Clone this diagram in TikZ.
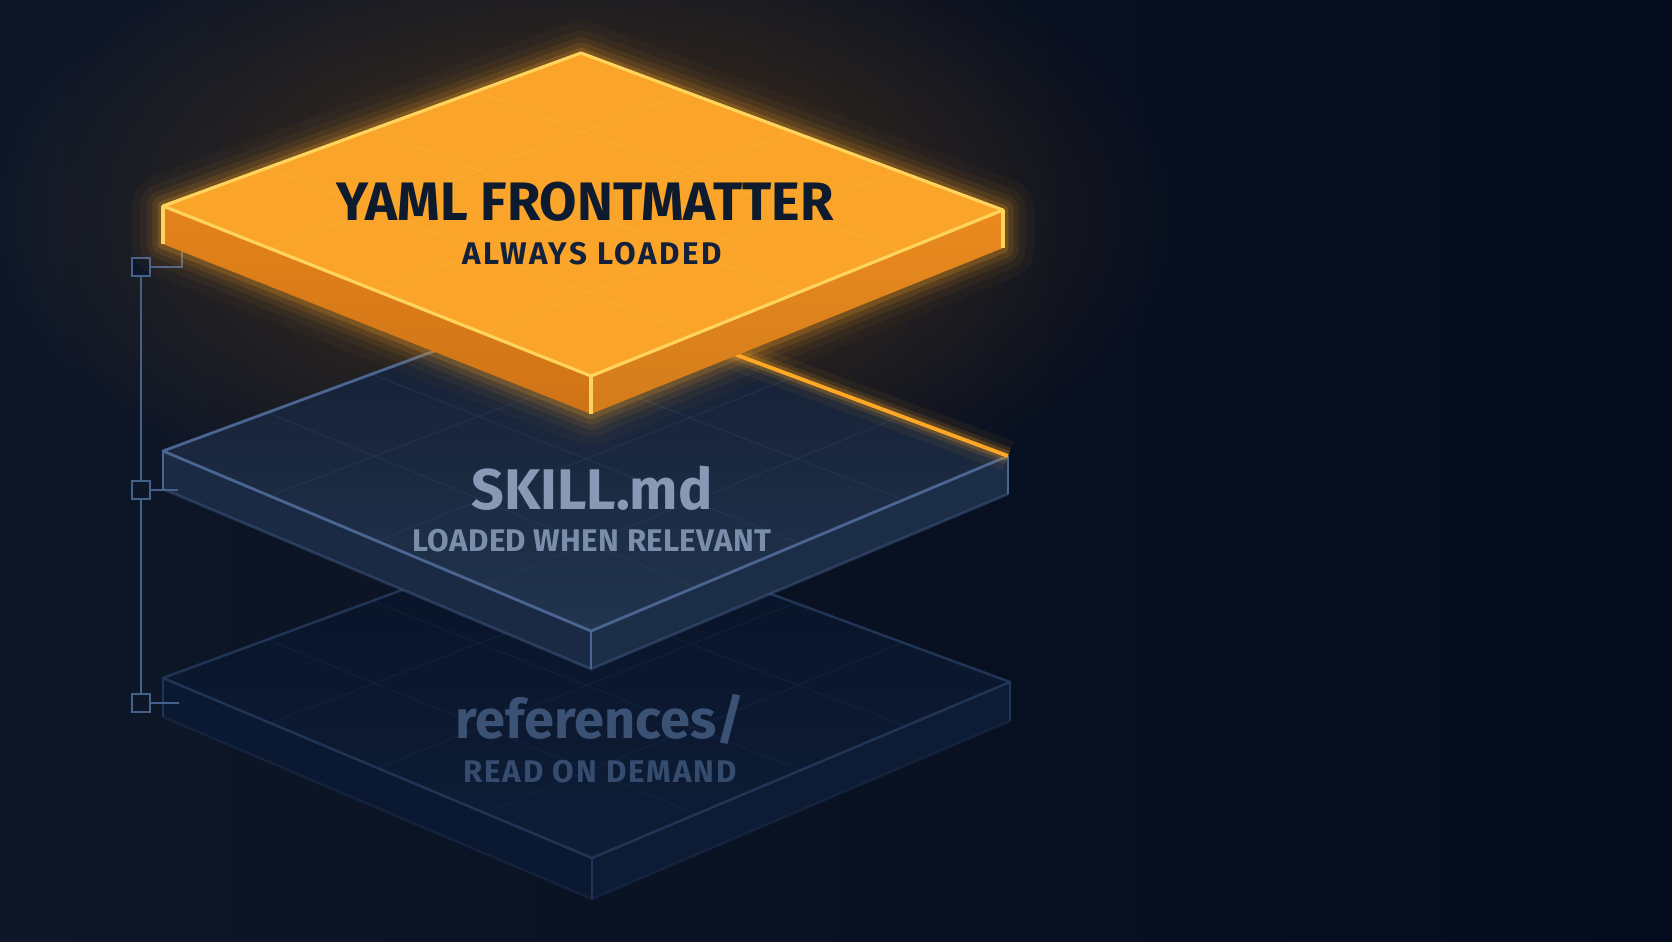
\documentclass[tikz,border=0pt]{standalone}
\usepackage{fontspec}
\setmainfont{Fira Sans}
\usepackage{tikz}
\usetikzlibrary{calc,fadings}
\definecolor{bgleft}{HTML}{0E1728}
\definecolor{bgright}{HTML}{030B1D}
\definecolor{warmglow}{HTML}{6A4416}
\definecolor{orangetop}{HTML}{FAA42A}
\definecolor{orangeleft}{HTML}{E07D18}
\definecolor{orangeright}{HTML}{EA8A1E}
\definecolor{orangeedge}{HTML}{FFD45C}
\definecolor{orangeline}{HTML}{FFA826}
\definecolor{slatetop}{HTML}{22344F}
\definecolor{slateshade}{HTML}{131D30}
\definecolor{slateleft}{HTML}{1A2A45}
\definecolor{slateright}{HTML}{1C2D48}
\definecolor{slateedge}{HTML}{4A6590}
\definecolor{slategrid}{HTML}{2C3E5C}
\definecolor{deeptop}{HTML}{0E1D37}
\definecolor{deepshade}{HTML}{081226}
\definecolor{deepleft}{HTML}{0B1831}
\definecolor{deepright}{HTML}{0D1B35}
\definecolor{deepedge}{HTML}{203556}
\definecolor{portc}{HTML}{45618A}
\definecolor{inktitle}{HTML}{0E1A2D}
\definecolor{inksub}{HTML}{14213A}
\definecolor{skillink}{HTML}{8799B4}
\definecolor{skillsub}{HTML}{7A8DAA}
\definecolor{refink}{HTML}{3B5275}
\definecolor{refsub}{HTML}{364C6E}
\tikzfading[name=softglow, inner color=transparent!35, outer color=transparent!100]

\begin{document}
\begin{tikzpicture}[x=0.01cm, y=-0.01cm]
	\tikzset{edgeA/.style={draw=orangeedge, line width=0.9pt, line join=round}}
	\tikzset{edgeB/.style={draw=slateedge, line width=0.8pt, line join=round}}
	\tikzset{edgeC/.style={draw=deepedge, line width=0.7pt, line join=round}}
	\tikzset{gridA/.style={draw=orangeedge, opacity=0.14, line width=0.4pt}}
	\tikzset{gridB/.style={draw=slategrid, opacity=0.4, line width=0.4pt}}
	\tikzset{gridC/.style={draw=deepedge, opacity=0.25, line width=0.4pt}}
	\tikzset{port/.style={draw=portc, line width=0.8pt, minimum size=0.18cm, inner sep=0pt, fill=bgleft}}
	\tikzset{wire/.style={draw=portc, line width=0.8pt}}
	\tikzset{title/.style={anchor=base, inner sep=0pt, font=\fontsize{15.4}{18}\selectfont\bfseries}}
	\tikzset{caption/.style={anchor=base, inner sep=0pt, font=\fontsize{8.9}{11}\selectfont\bfseries}}
	% background
	\useasboundingbox (0,0) rectangle (1672,941);
	\shade[left color=bgleft, right color=bgright] (0,0) rectangle (1672,941);
	\fill[warmglow, path fading=softglow] (585,215) ellipse (600 and 330);
	% corners of the three slabs
	\coordinate (aL) at (163,206); \coordinate (aT) at (581,53);
	\coordinate (aR) at (1003,210); \coordinate (aF) at (591,376);
	\coordinate (aLb) at (163,244); \coordinate (aRb) at (1003,248); \coordinate (aFb) at (591,414);
	\coordinate (bL) at (163,451); \coordinate (bT) at (581,297);
	\coordinate (bR) at (1008,456); \coordinate (bF) at (591,631);
	\coordinate (bLb) at (163,489); \coordinate (bRb) at (1008,494); \coordinate (bFb) at (591,669);
	\coordinate (cL) at (163,678); \coordinate (cT) at (581,524);
	\coordinate (cR) at (1010,682); \coordinate (cF) at (592,858);
	\coordinate (cLb) at (163,717); \coordinate (cRb) at (1010,721); \coordinate (cFb) at (592,899);
	% references/ slab
	\fill[deepleft] (cL) -- (cF) -- (cFb) -- (cLb) -- cycle;
	\fill[deepright] (cF) -- (cR) -- (cRb) -- (cFb) -- cycle;
	\shade[top color=deepshade, bottom color=deeptop] (cL) -- (cT) -- (cR) -- (cF) -- cycle;
	\foreach \t in {0.25,0.5,0.75} {
		\draw[gridC] ($(cL)!\t!(cT)$) -- ($(cF)!\t!(cR)$);
		\draw[gridC] ($(cL)!\t!(cF)$) -- ($(cT)!\t!(cR)$);
	}
	\draw[edgeC] (cL) -- (cT) -- (cR) -- (cF) -- cycle;
	\draw[edgeC] (cL) -- (cLb) (cF) -- (cFb) (cR) -- (cRb);
	\draw[edgeC, opacity=0.4] (cLb) -- (cFb) -- (cRb);
	% SKILL.md slab
	\fill[slateleft] (bL) -- (bF) -- (bFb) -- (bLb) -- cycle;
	\fill[slateright] (bF) -- (bR) -- (bRb) -- (bFb) -- cycle;
	\shade[top color=slateshade, bottom color=slatetop] (bL) -- (bT) -- (bR) -- (bF) -- cycle;
	\foreach \t in {0.25,0.5,0.75} {
		\draw[gridB] ($(bL)!\t!(bT)$) -- ($(bF)!\t!(bR)$);
		\draw[gridB] ($(bL)!\t!(bF)$) -- ($(bT)!\t!(bR)$);
	}
	\draw[edgeB] (bR) -- (bF) -- (bL) -- (bT);
	\draw[edgeB] (bL) -- (bLb) (bF) -- (bFb) (bR) -- (bRb);
	\draw[edgeB, opacity=0.4] (bLb) -- (bFb) -- (bRb);
	\foreach \w/\o in {9/0.06, 5/0.12, 3/0.2} {
		\draw[orangeline, line width=\w pt, opacity=\o] (bT) -- (bR);
	}
	\draw[orangeline, line width=1.1pt] (bT) -- (bR);
	% level connector
	\node[port] (p1) at (141,267) {};
	\node[port] (p2) at (141,490) {};
	\node[port] (p3) at (141,703) {};
	\coordinate (s1) at (182,267);
	\coordinate (s1top) at ($(aLb)!0.045!(aFb)$);
	\coordinate (s2) at (178,490);
	\coordinate (s3) at (179,703);
	\draw[wire] (p1) -- (p2);
	\draw[wire] (p2) -- (p3);
	\draw[wire] (p1) -- (s1) -- (s1 |- s1top);
	\draw[wire] (p2) -- (s2);
	\draw[wire] (p3) -- (s3);
	% YAML frontmatter slab
	\foreach \w/\o in {18/0.035, 13/0.05, 9/0.08, 6/0.11, 3/0.18} {
		\draw[orangeline, line width=\w pt, opacity=\o, line join=round]
			(aL) -- (aT) -- (aR) -- (aRb) -- (aFb) -- (aLb) -- cycle;
	}
	\shade[top color=orangeleft!85!orangetop, bottom color=orangeleft!92!black] (aL) -- (aF) -- (aFb) -- (aLb) -- cycle;
	\shade[top color=orangeright, bottom color=orangeright!90!black] (aF) -- (aR) -- (aRb) -- (aFb) -- cycle;
	\fill[orangetop] (aL) -- (aT) -- (aR) -- (aF) -- cycle;
	\foreach \t in {0.25,0.5,0.75} {
		\draw[gridA] ($(aL)!\t!(aT)$) -- ($(aF)!\t!(aR)$);
		\draw[gridA] ($(aL)!\t!(aF)$) -- ($(aT)!\t!(aR)$);
	}
	\draw[edgeA] (aL) -- (aT) -- (aR) -- (aF) -- cycle;
	\draw[edgeA] (aL) -- (aLb) (aF) -- (aFb) (aR) -- (aRb);
	% labels
	\node[title, text=inktitle] (yaml) at (585,220) {YAML FRONTMATTER};
	\node[caption, text=inksub] (always) at (592,264) {\addfontfeature{LetterSpace=8}ALWAYS LOADED};
	\node[title, text=skillink, font=\fontsize{16.3}{19}\selectfont\bfseries] (skill) at (592,509) {SKILL.md};
	\node[caption, text=skillsub] (relevant) at (592,551) {\addfontfeature{LetterSpace=1}LOADED WHEN RELEVANT};
	\node[title, text=refink, font=\fontsize{15.4}{19}\selectfont\bfseries] (refs) at (600,738) {references/};
	\node[caption, text=refsub] (demand) at (600,782) {\addfontfeature{LetterSpace=6}READ ON DEMAND};
\end{tikzpicture}
\end{document}
